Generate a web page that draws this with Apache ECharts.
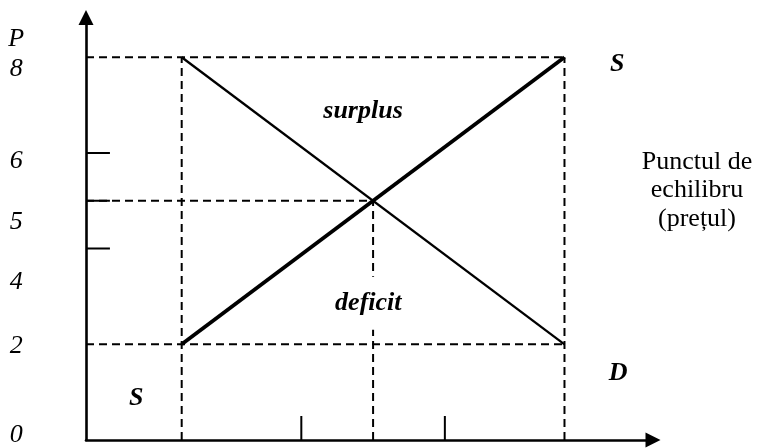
<!DOCTYPE html>
<html><head><meta charset="utf-8">
<script src="https://cdn.jsdelivr.net/npm/echarts@6/dist/echarts.min.js"></script>
<style>html,body{margin:0;padding:0;background:#fff}#c{width:757px;height:448px}</style>
</head><body><div id="c"></div>
<script>
// ---- data ----
const demandLine = [[2, 8], [10, 2]];
const supplyLine = [[2, 2], [10, 8]];
const dashedSegments = [
  [[0, 8], [10, 8]], [[0, 5], [6, 5]], [[0, 2], [10, 2]],
  [[2, 0], [2, 8]], [[6, 0], [6, 5]], [[10, 0], [10, 8]]
];
const yTickValues = [6, 5, 4];
const xTickValues = [4.5, 7.5];
const tickLength = 0.5;
const yTickLabels = ['P', '8', '6', '5', '4', '2', '0'];
const yTickLabelAt = [8.38, 7.75, 5.82, 4.55, 3.3, 1.95, 0.1];
const yTickLabelX = -1.46;
const areaLabels = ['surplus', 'deficit'];
const areaLabelAt = [[5.79, 6.86], [5.9, 2.86]];
const curveLabels = ['S', 'D', 'S'];
const curveLabelAt = [[11.1, 7.84], [11.12, 1.38], [1.05, 0.86]];
const noteText = 'Punctul de\nechilibru\n(prețul)';
const noteAt = [12.77, 5.21];

// ---- chart ----
const chart = echarts.init(document.getElementById('c'), null, {renderer: 'canvas'});
const series = [];
dashedSegments.forEach(seg => series.push({
  type: 'line', data: seg, symbol: 'none', silent: true, z: 2,
  lineStyle: {color: '#000', width: 2, type: [8, 5]}
}));
yTickValues.forEach(v => series.push({
  type: 'line', data: [[0, v], [tickLength, v]], symbol: 'none', silent: true, z: 3,
  lineStyle: {color: '#000', width: 2}
}));
xTickValues.forEach(v => series.push({
  type: 'line', data: [[v, 0], [v, tickLength]], symbol: 'none', silent: true, z: 3,
  lineStyle: {color: '#000', width: 2}
}));
series.push({type: 'line', data: demandLine, symbol: 'none', silent: true, z: 5,
  lineStyle: {color: '#000', width: 2.3}});
series.push({type: 'line', data: supplyLine, symbol: 'none', silent: true, z: 5,
  lineStyle: {color: '#000', width: 3.8}});

const axisCommon = {
  type: 'value', min: 0,
  axisLine: {show: true, onZero: false, symbol: ['none', 'triangle'], symbolSize: [15, 15],
    lineStyle: {color: '#000', width: 2.6}},
  axisTick: {show: false}, axisLabel: {show: false}, splitLine: {show: false}
};
chart.setOption({
  animation: false,
  backgroundColor: '#fff',
  grid: {left: 86, right: 104, top: 17.5, bottom: 8, containLabel: false},
  xAxis: Object.assign({}, axisCommon, {max: 11.85}),
  yAxis: Object.assign({}, axisCommon, {max: 8.83}),
  series: series
});

const SX = 1.04;
const px = p => chart.convertToPixel({xAxisIndex: 0, yAxisIndex: 0}, p);
const graphics = [];
function addText(text, at, font, extra) {
  const p = px(at);
  graphics.push({
    type: 'text', x: p[0], y: p[1], scaleX: SX, scaleY: 1, z: 10, silent: true,
    style: Object.assign({text: text, font: font, fill: '#000', align: 'center', verticalAlign: 'middle'}, (extra || {}))
  });
}
const SERIF = '"Liberation Serif", "Times New Roman", serif';
yTickLabels.forEach((t, i) => addText(t, [yTickLabelX, yTickLabelAt[i]], 'italic 25px ' + SERIF));
areaLabels.forEach((t, i) => addText(t, areaLabelAt[i], 'italic bold 25px ' + SERIF,
  {backgroundColor: '#fff', padding: [14, 8]}));
curveLabels.forEach((t, i) => addText(t, curveLabelAt[i], 'italic bold 25px ' + SERIF));
addText(noteText, noteAt, '25px ' + SERIF, {lineHeight: 28.5});
chart.setOption({graphic: graphics});
</script>
</body></html>
